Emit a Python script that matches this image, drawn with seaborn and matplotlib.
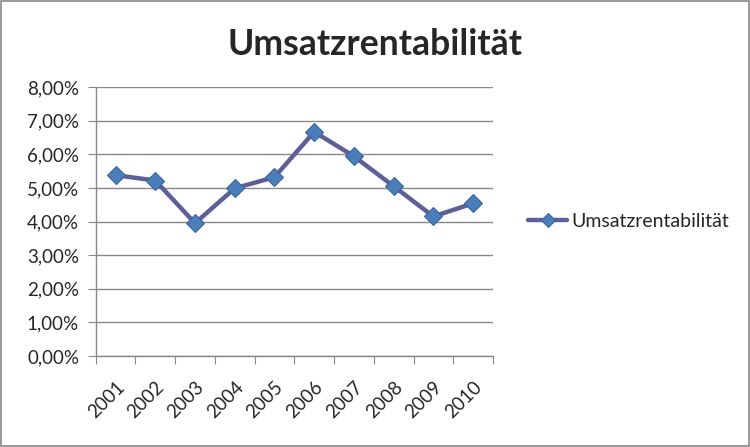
import numpy as np
import pandas as pd
import matplotlib
matplotlib.use("Agg")
import matplotlib.pyplot as plt
import seaborn as sns
from matplotlib.ticker import FuncFormatter, FixedLocator

# Werte
jahre = ["2001", "2002", "2003", "2004", "2005", "2006", "2007", "2008", "2009", "2010"]
rendite = [5.38, 5.22, 3.95, 4.99, 5.32, 6.67, 5.94, 5.05, 4.15, 4.54]
serie = "Umsatzrentabilität"

df = pd.DataFrame({"Jahr": np.arange(len(jahre)), "Wert": rendite})

sns.set_style("white")
plt.rcParams["font.family"] = ["Lato", "DejaVu Sans"]

fig = plt.figure(figsize=(7.5, 4.47), dpi=100)
ax = fig.add_axes([0.1276, 0.2036, 0.5297, 0.6016])

sns.lineplot(data=df, x="Jahr", y="Wert", ax=ax, color="#5E5F98", linewidth=3.2,
             marker="D", markersize=9.5, markerfacecolor="#4A7EBB",
             markeredgecolor="#3C6597", markeredgewidth=0.8, label=serie)

ax.set_xlim(-0.5, len(jahre) - 0.5)
ax.set_ylim(0, 8)
ax.set_yticks(np.arange(0, 9, 1))
ax.yaxis.set_major_formatter(FuncFormatter(lambda v, p: f"{v:.2f}%".replace(".", ",")))
ax.grid(axis="y", color="#888888", linewidth=1)
ax.set_axisbelow(True)

# Teilstriche zwischen den Kategorien, Beschriftung in der Mitte
ax.xaxis.set_major_locator(FixedLocator(np.arange(-0.5, len(jahre), 1)))
ax.xaxis.set_minor_locator(FixedLocator(np.arange(len(jahre))))
ax.set_xticklabels([], minor=False)
ax.set_xticklabels(jahre, minor=True, rotation=45, ha="right", va="top",
                   rotation_mode="anchor", fontsize=13.5)
ax.tick_params(axis="x", which="major", length=6, color="#888888", direction="out", bottom=True)
ax.tick_params(axis="x", which="minor", length=0, pad=16)
ax.tick_params(axis="y", length=6, color="#888888", direction="out", left=True, labelsize=13.5, pad=6)

for s in ["top", "right"]:
    ax.spines[s].set_visible(False)
for s in ["left", "bottom"]:
    ax.spines[s].set_color("#888888")
    ax.spines[s].set_linewidth(1)

ax.set_xlabel("")
ax.set_ylabel("")

ax.legend(loc="center left", bbox_to_anchor=(1.045, 0.5), frameon=False, fontsize=14,
          handlelength=2.0, handletextpad=0.2, markerscale=0.8)

fig.text(0.5, 0.9, serie, ha="center", va="center", fontsize=25.7, fontweight="bold")

fig.patches.append(plt.Rectangle((0.001, 0.002), 0.997, 0.995, transform=fig.transFigure,
                                 fill=False, edgecolor="#888888", linewidth=1.2))

fig.savefig("out.png", dpi=100)
